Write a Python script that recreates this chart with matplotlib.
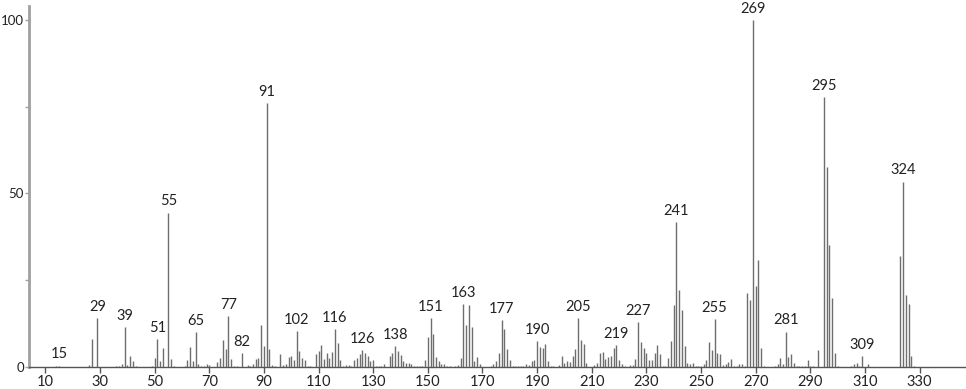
import numpy as np
import matplotlib
matplotlib.use("Agg")
import matplotlib.pyplot as plt
from matplotlib.ticker import MultipleLocator

plt.rcParams['font.family'] = ['Lato', 'DejaVu Sans']

# m/z values and relative intensities
mz = [14, 15, 26, 27, 29, 36, 37, 38, 39, 40, 41, 42, 43, 49, 50, 51, 52, 53, 55, 56, 57,
      61, 62, 63, 64, 65, 66, 67, 68, 69, 70, 73, 74, 75, 76, 77, 78, 79, 80, 82, 84, 85,
      86, 87, 88, 89, 90, 91, 92, 93, 94, 96, 97, 98, 99, 100, 101, 102, 103, 104, 105,
      106, 107, 109, 110, 111, 112, 113, 114, 115, 116, 117, 118, 119, 120, 121, 122,
      123, 124, 125, 126, 127, 128, 129, 130, 131, 132, 133, 134, 136, 137, 138, 139,
      140, 141, 142, 143, 144, 145, 146, 147, 148, 149, 150, 151, 152, 153, 154, 155,
      156, 157, 158, 160, 161, 162, 163, 164, 165, 166, 167, 168, 169, 173, 174, 175,
      176, 177, 178, 179, 180, 181, 182, 183, 184, 185, 186, 187, 188, 189, 190, 191,
      192, 193, 194, 195, 196, 198, 199, 200, 201, 202, 203, 204, 205, 206, 207, 208,
      211, 212, 213, 214, 215, 216, 217, 218, 219, 220, 221, 222, 224, 225, 226, 227,
      228, 229, 230, 231, 232, 233, 234, 235, 236, 237, 238, 239, 240, 241, 242, 243,
      244, 245, 246, 247, 248, 249, 250, 251, 252, 253, 254, 255, 256, 257, 258, 259,
      260, 261, 262, 263, 264, 265, 266, 267, 268, 269, 270, 271, 272, 273, 277, 278,
      279, 280, 281, 282, 283, 284, 285, 286, 287, 288, 289, 290, 291, 293, 295, 296,
      297, 298, 299, 300, 305, 306, 307, 308, 309, 311, 323, 324, 325, 326, 327, 328]
intensity = [0.3, 0.4, 0.6, 8.0, 14.0, 0.2, 0.2, 1.0, 11.6, 0.6, 3.3, 1.6, 0.3, 0.2, 2.5,
             8.0, 1.7, 5.4, 44.5, 2.2, 0.4, 0.3, 2.0, 5.7, 1.7, 10.0, 0.8, 0.3, 0.3, 1.0,
             0.7, 1.5, 2.5, 7.9, 5.3, 14.6, 2.2, 0.3, 0.3, 4.0, 0.6, 0.3, 0.8, 2.2, 2.5,
             12.0, 6.0, 76.0, 5.3, 0.5, 0.3, 3.8, 0.7, 0.8, 2.8, 3.1, 2.1, 10.3, 4.5, 2.6,
             1.9, 0.3, 0.4, 3.7, 4.6, 6.3, 2.2, 3.9, 2.6, 4.2, 11.0, 6.8, 2.0, 0.3, 0.6,
             0.6, 0.4, 2.0, 2.5, 3.7, 4.9, 4.1, 3.2, 1.7, 2.0, 0.4, 0.4, 0.4, 0.8, 3.2,
             3.9, 6.0, 4.7, 3.5, 1.8, 1.2, 1.2, 0.9, 0.4, 0.3, 0.3, 0.3, 2.0, 8.5, 14.0,
             9.5, 2.9, 1.7, 0.8, 0.8, 0.4, 0.2, 0.2, 0.7, 2.6, 18.2, 12.1, 17.9, 11.4, 1.7,
             2.8, 0.9, 0.4, 0.8, 1.7, 4.1, 13.4, 11.0, 5.2, 2.0, 0.4, 0.4, 0.4, 0.3, 0.4,
             0.9, 0.7, 1.8, 2.0, 7.4, 5.7, 5.6, 6.7, 1.6, 0.4, 0.3, 0.7, 3.1, 1.2, 1.8,
             1.3, 3.1, 5.2, 14.0, 7.7, 6.6, 1.1, 0.6, 1.1, 3.9, 4.2, 2.2, 2.8, 3.2, 5.6,
             6.2, 2.0, 0.8, 0.4, 0.6, 0.5, 2.2, 12.9, 7.3, 5.4, 4.0, 2.0, 2.0, 3.9, 6.3,
             3.7, 0.4, 0.3, 2.6, 7.5, 18.0, 41.8, 22.2, 16.3, 6.0, 1.2, 0.9, 1.1, 0.4, 0.4,
             0.3, 0.9, 2.0, 7.2, 4.9, 13.8, 4.0, 3.7, 0.6, 0.8, 1.5, 2.2, 0.4, 0.4, 0.8,
             0.8, 0.3, 21.4, 19.3, 100.0, 23.3, 30.9, 5.4, 0.3, 0.3, 1.0, 2.7, 1.0, 10.2,
             2.8, 3.7, 1.1, 0.4, 0.4, 0.4, 0.4, 2.0, 0.3, 0.3, 4.9, 77.7, 57.7, 35.1, 19.8,
             4.0, 0.3, 0.3, 0.9, 1.1, 0.3, 3.2, 0.9, 31.9, 53.4, 20.7, 18.2, 3.2, 0.3]

labeled = [15, 29, 39, 51, 55, 65, 77, 82, 91, 102, 116, 126, 138, 151, 163, 177, 190,
           205, 219, 227, 241, 255, 269, 281, 295, 309, 324]

fig = plt.figure(figsize=(9.66, 3.89), dpi=100)
ax = fig.add_axes([0.030, 0.0566, 0.970, 0.928])

ax.vlines(mz, 0, intensity, color="#6e6e6e", lw=1.0)

lookup = dict(zip(mz, intensity))
for m in labeled:
    ax.text(m, lookup[m] + 1.2, str(m), ha="center", va="bottom",
            fontsize=10.5, color="#222222")

ax.set_xlim(4, 347)
ax.set_ylim(0, 104)

for s in ["top", "right"]:
    ax.spines[s].set_visible(False)
ax.spines["left"].set_color("#a0a0a0")
ax.spines["left"].set_linewidth(2)
ax.spines["bottom"].set_color("#555555")
ax.spines["bottom"].set_linewidth(1)

ax.set_xticks(np.arange(10, 331, 20))
ax.set_yticks([0, 50, 100])
ax.yaxis.set_minor_locator(MultipleLocator(25))
ax.tick_params(axis="x", length=4, width=1, color="#555555", labelsize=10.5,
               labelcolor="#222222", pad=2)
ax.tick_params(axis="y", which="both", length=3, width=1, color="#a0a0a0",
               labelsize=9.5, labelcolor="#222222", pad=0.5)

plt.savefig("out.png", dpi=100)
